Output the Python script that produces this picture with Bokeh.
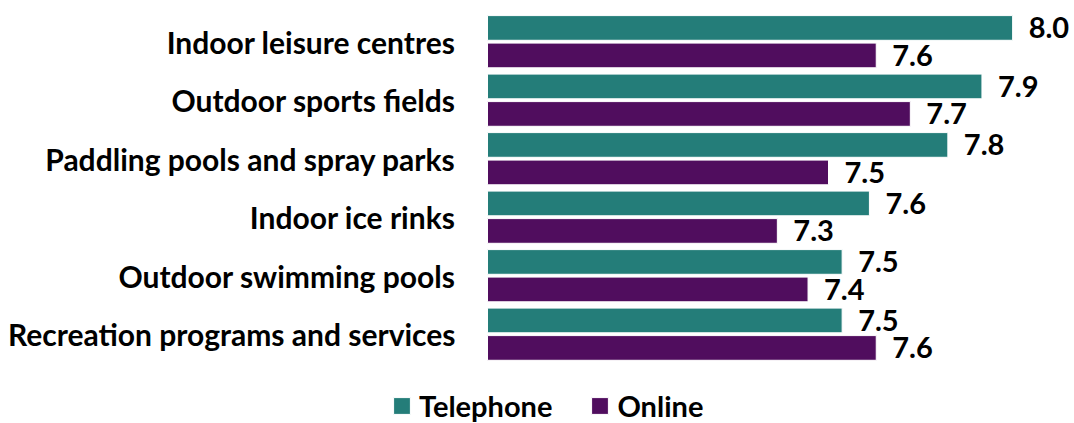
from bokeh.plotting import figure
from bokeh.models import ColumnDataSource, Range1d, Legend, LegendItem
from bokeh.embed import file_html
from bokeh.resources import INLINE
from bokeh.core.properties import value

# ---- data ----
categories = [
    "Indoor leisure centres",
    "Outdoor sports fields",
    "Paddling pools and spray parks",
    "Indoor ice rinks",
    "Outdoor swimming pools",
    "Recreation programs and services",
]
telephone = [8.00, 7.91, 7.81, 7.58, 7.50, 7.50]
online = [7.60, 7.70, 7.46, 7.31, 7.40, 7.60]
series_names = ["Telephone", "Online"]
X_MIN = 6.46  # value axis minimum (bars start here)

# ---- styling / layout ----
TEAL = "#247D79"
PURPLE = "#500D5E"
FONT = value("Lato")
W, H = 1074, 423
px_per_unit = 341.0
frame_left = 487.0
x_start = X_MIN - frame_left / px_per_unit
x_end = X_MIN + (W - frame_left) / px_per_unit

group_px = 58.5
first_center = 41.2
y_top = -first_center / group_px
y_bottom = (H - first_center) / group_px

offset = 0.235
bar_h = 0.422

p = figure(width=W, height=H, output_backend="svg", toolbar_location=None,
           x_range=Range1d(x_start, x_end), y_range=Range1d(y_bottom, y_top),
           x_axis_type=None, y_axis_type=None, min_border=0,
           outline_line_color=None, background_fill_color="white",
           border_fill_color="white")
p.grid.visible = False

idx = list(range(len(categories)))
src_t = ColumnDataSource(dict(y=[i - offset for i in idx], right=telephone,
                              label=[f"{v:.1f}" for v in telephone]))
src_o = ColumnDataSource(dict(y=[i + offset for i in idx], right=online,
                              label=[f"{v:.1f}" for v in online]))

r_t = p.hbar(y="y", left=X_MIN, right="right", height=bar_h, source=src_t,
             fill_color=TEAL, line_color="white", line_width=1)
r_o = p.hbar(y="y", left=X_MIN, right="right", height=bar_h, source=src_o,
             fill_color=PURPLE, line_color="white", line_width=1)

for src in (src_t, src_o):
    p.text(x="right", y="y", text="label", source=src, x_offset=16,
           text_align="left", text_baseline="middle", text_font=FONT,
           text_font_style="bold", text_font_size="29px", text_color="black")

src_c = ColumnDataSource(dict(y=idx, name=categories, x=[X_MIN] * len(idx)))
p.text(x="x", y="y", text="name", source=src_c, x_offset=-32,
       text_align="right", text_baseline="middle", text_font=FONT,
       text_font_style="bold", text_font_size="30px", text_color="black")

legend = Legend(items=[LegendItem(label=series_names[0], renderers=[r_t]),
                       LegendItem(label=series_names[1], renderers=[r_o])],
                orientation="horizontal", location=(391, 0),
                glyph_width=21, glyph_height=21, label_standoff=7, spacing=37,
                margin=0, padding=0, background_fill_alpha=0,
                border_line_alpha=0, label_text_font="Lato",
                label_text_font_style="bold", label_text_font_size="29px",
                label_text_color="black")
p.add_layout(legend)

open("out.html", "w").write(file_html(p, INLINE))
